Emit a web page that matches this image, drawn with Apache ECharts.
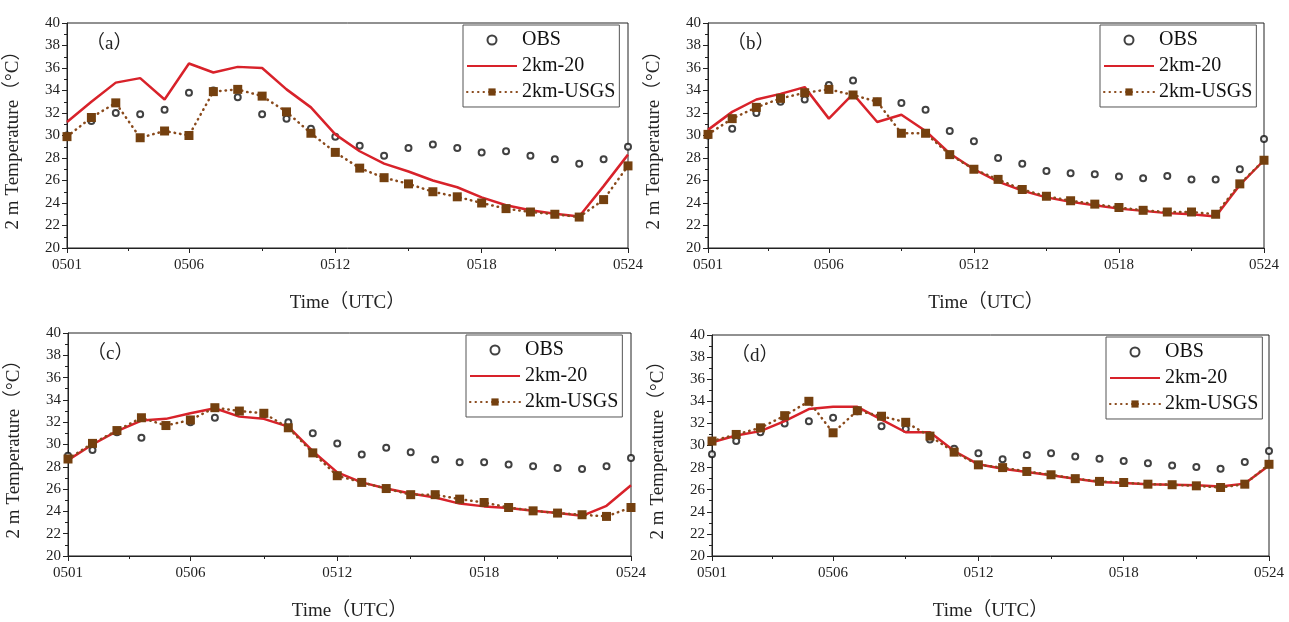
<!DOCTYPE html>
<html>
<head>
<meta charset="utf-8">
<script src="https://cdn.jsdelivr.net/npm/echarts@6/dist/echarts.min.js"></script>
<style>
  html, body { margin: 0; padding: 0; background: #fff; }
  #chart { width: 1289px; height: 622px; }
</style>
</head>
<body>
<div id="chart"></div>
<script>
// x categories: one point per day, 0501 .. 0524
const days = ['0501','0502','0503','0504','0505','0506','0507','0508','0509','0510','0511','0512',
              '0513','0514','0515','0516','0517','0518','0519','0520','0521','0522','0523','0524']
const majorTickDays = [0, 5, 11, 17, 23]
const minorTickDays = [2.5, 8, 14, 20]
const panelLabels = ['（a）', '（b）', '（c）', '（d）']

// (a)
const obsA  = [30.0, 31.3, 32.0, 31.9, 32.3, 33.8, 34.0, 33.4, 31.9, 31.5, 30.6, 29.9, 29.1, 28.2, 28.9, 29.2, 28.9, 28.5, 28.6, 28.2, 27.9, 27.5, 27.9, 29.0]
const wrfA  = [31.2, 33.0, 34.7, 35.1, 33.2, 36.4, 35.6, 36.1, 36.0, 34.1, 32.5, 30.1, 28.6, 27.5, 26.8, 26.0, 25.4, 24.5, 23.8, 23.35, 23.05, 22.8, 25.5, 28.3]
const usgsA = [29.9, 31.6, 32.9, 29.8, 30.4, 30.0, 33.9, 34.1, 33.5, 32.1, 30.2, 28.5, 27.1, 26.25, 25.7, 25.0, 24.55, 24.0, 23.5, 23.2, 23.0, 22.75, 24.3, 27.3]
// (b)
const obsB  = [30.0, 30.6, 32.0, 33.0, 33.2, 34.5, 34.9, 33.0, 32.9, 32.3, 30.4, 29.5, 28.0, 27.5, 26.85, 26.65, 26.55, 26.35, 26.2, 26.4, 26.1, 26.1, 27.0, 29.7]
const wrfB  = [30.5, 32.1, 33.2, 33.7, 34.3, 31.5, 33.7, 31.2, 31.85, 30.4, 28.4, 27.0, 25.9, 25.1, 24.5, 24.1, 23.8, 23.5, 23.3, 23.1, 23.0, 22.8, 25.6, 27.8]
const usgsB = [30.1, 31.5, 32.5, 33.3, 33.8, 34.1, 33.6, 33.0, 30.2, 30.2, 28.3, 27.0, 26.1, 25.2, 24.6, 24.2, 23.9, 23.6, 23.35, 23.2, 23.2, 23.0, 25.7, 27.8]
// (c)
const obsC  = [29.0, 29.5, 31.1, 30.6, 31.7, 32.0, 32.4, 33.0, 32.7, 32.0, 31.0, 30.1, 29.1, 29.7, 29.3, 28.65, 28.4, 28.4, 28.2, 28.05, 27.9, 27.8, 28.05, 28.8]
const wrfC  = [28.6, 30.0, 31.2, 32.15, 32.3, 32.8, 33.25, 32.5, 32.3, 31.6, 29.4, 27.5, 26.6, 26.05, 25.6, 25.25, 24.7, 24.45, 24.3, 24.05, 23.85, 23.6, 24.5, 26.35]
const usgsC = [28.7, 30.1, 31.25, 32.4, 31.7, 32.2, 33.3, 33.0, 32.8, 31.5, 29.25, 27.2, 26.6, 26.05, 25.5, 25.5, 25.1, 24.8, 24.35, 24.05, 23.85, 23.7, 23.55, 24.35]
// (d)
const obsD  = [29.2, 30.4, 31.2, 32.0, 32.2, 32.5, 33.1, 31.75, 31.5, 30.55, 29.7, 29.3, 28.75, 29.15, 29.3, 29.0, 28.8, 28.6, 28.4, 28.2, 28.05, 27.9, 28.5, 29.5]
const wrfD  = [30.3, 30.9, 31.3, 32.2, 33.3, 33.5, 33.5, 32.35, 31.2, 31.2, 29.5, 28.3, 27.9, 27.6, 27.3, 27.0, 26.7, 26.6, 26.5, 26.45, 26.4, 26.3, 26.55, 28.2]
const usgsD = [30.4, 31.0, 31.6, 32.7, 34.0, 31.15, 33.15, 32.65, 32.1, 30.85, 29.4, 28.25, 28.0, 27.65, 27.35, 27.0, 26.75, 26.65, 26.5, 26.45, 26.35, 26.2, 26.5, 28.3]

const panels = [
    { obs: obsA, wrf: wrfA, usgs: usgsA },
    { obs: obsB, wrf: wrfB, usgs: usgsB },
    { obs: obsC, wrf: wrfC, usgs: usgsC },
    { obs: obsD, wrf: wrfD, usgs: usgsD }
]

// layout of the 2x2 figure (px)
const layout = [
    { left: 67,  top: 23,  width: 561, height: 225, legendLeft: 463,  legendTop: 25 },
    { left: 708, top: 23,  width: 556, height: 225, legendLeft: 1100, legendTop: 25 },
    { left: 68,  top: 333, width: 563, height: 226, legendLeft: 466,  legendTop: 335 },
    { left: 712, top: 335, width: 557, height: 224, legendLeft: 1106, legendTop: 337 }
]

const serif = '"Liberation Serif", "Times New Roman", "Noto Sans CJK SC", serif'
const axisColor = '#222'
const red = '#d8222a'
const brown = '#74400f'

function toPairs(values) {
    return values.map((v, i) => [i, v])
}

function buildOption() {
    const grid = [], xAxis = [], yAxis = [], series = [], legend = [], title = []
    panels.forEach((p, k) => {
        const l = layout[k]
        grid.push({
            left: l.left, top: l.top, width: l.width, height: l.height,
            show: true, borderColor: axisColor, borderWidth: 1
        })
        // major ticks + labels
        xAxis.push({
            type: 'value', gridIndex: k, min: 0, max: 23, position: 'bottom',
            name: 'Time（UTC）', nameLocation: 'middle', nameGap: 46,
            nameTextStyle: { fontFamily: serif, fontSize: 19, color: '#222' },
            axisLine: { lineStyle: { color: axisColor, width: 1 } },
            axisTick: { customValues: majorTickDays, length: 5, lineStyle: { color: axisColor } },
            axisLabel: {
                customValues: majorTickDays, fontFamily: serif, fontSize: 15, color: '#222', margin: 10,
                formatter: v => days[v]
            },
            splitLine: { show: false }
        })
        // minor ticks between the labelled days
        xAxis.push({
            type: 'value', gridIndex: k, min: 0, max: 23, position: 'bottom',
            axisLine: { show: false },
            axisTick: { customValues: minorTickDays, length: 3, lineStyle: { color: axisColor } },
            axisLabel: { show: false },
            splitLine: { show: false }
        })
        yAxis.push({
            type: 'value', gridIndex: k, min: 20, max: 40, interval: 2,
            name: '2 m Temperature（°C）', nameLocation: 'middle', nameGap: 44,
            nameTextStyle: { fontFamily: serif, fontSize: 19, color: '#222' },
            axisLine: { show: true, lineStyle: { color: axisColor, width: 1 } },
            axisTick: { show: true, length: 5, lineStyle: { color: axisColor } },
            minorTick: { show: true, splitNumber: 2, length: 3, lineStyle: { color: axisColor } },
            axisLabel: { fontFamily: serif, fontSize: 15, color: '#222', margin: 7 },
            splitLine: { show: false }
        })
        series.push({
            name: 'OBS', type: 'scatter', xAxisIndex: 2 * k, yAxisIndex: k,
            symbol: 'emptyCircle', symbolSize: 6,
            itemStyle: { color: '#111', borderWidth: 1.5 },
            z: 2,
            data: toPairs(p.obs)
        })
        series.push({
            name: '2km-20', type: 'line', xAxisIndex: 2 * k, yAxisIndex: k,
            symbol: 'none',
            lineStyle: { color: red, width: 2.5 },
            itemStyle: { color: red },
            z: 3,
            data: toPairs(p.wrf)
        })
        series.push({
            name: '2km-USGS', type: 'line', xAxisIndex: 2 * k, yAxisIndex: k,
            symbol: 'rect', symbolSize: 9, showAllSymbol: true,
            lineStyle: { color: '#8a4a1c', width: 2.5, type: [0.5, 5], cap: 'round' },
            itemStyle: { color: brown },
            z: 4,
            data: toPairs(p.usgs)
        })
        legend.push({
            left: l.legendLeft, top: l.legendTop, orient: 'vertical',
            itemWidth: 50, itemHeight: 9, itemGap: 6, padding: [5, 4, 5, 3],
            borderColor: '#555', borderWidth: 1, backgroundColor: '#fff',
            textStyle: { fontFamily: serif, fontSize: 20, color: '#111' },
            data: [
                { name: 'OBS' },
                { name: '2km-20', itemStyle: { opacity: 0 } },
                { name: '2km-USGS' }
            ]
        })
        title.push({
            text: panelLabels[k], left: l.left + 14, top: l.top + 7,
            textStyle: { fontFamily: serif, fontSize: 19, fontWeight: 'normal', color: '#222' }
        })
    })
    return { animation: false, backgroundColor: '#fff', title, legend, grid, xAxis, yAxis, series }
}

const chart = echarts.init(document.getElementById('chart'))
chart.setOption(buildOption())
</script>
</body>
</html>
